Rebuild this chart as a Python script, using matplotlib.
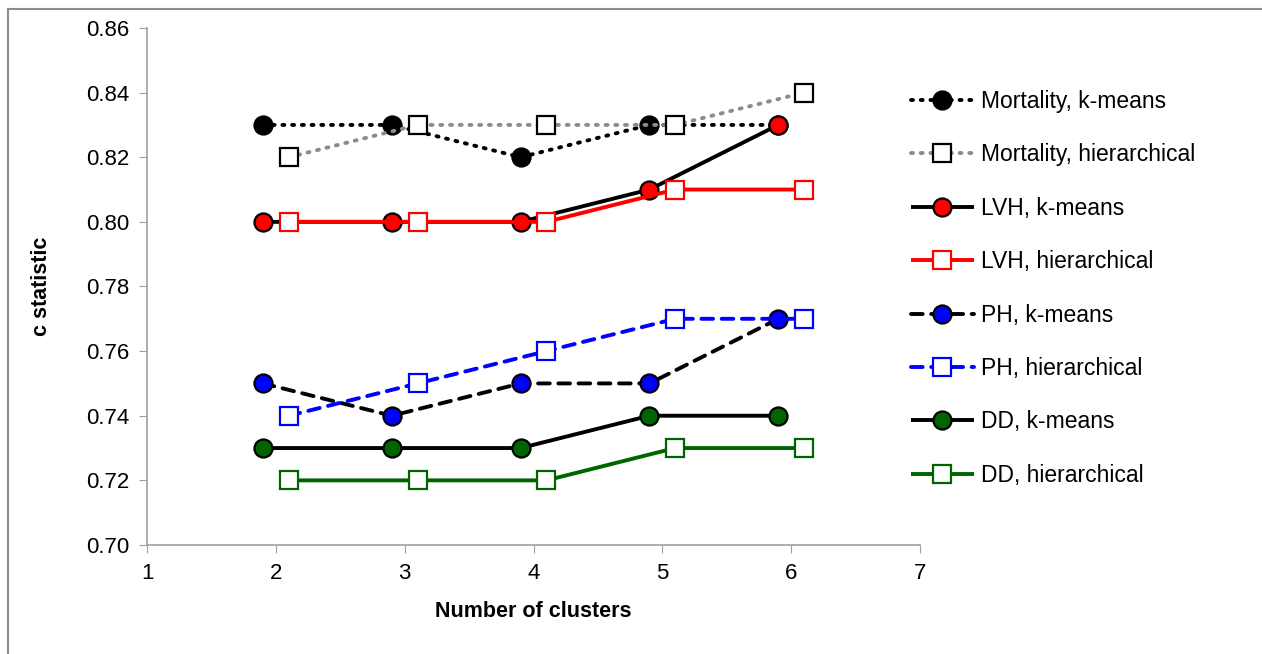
import matplotlib
matplotlib.use("Agg")
import matplotlib.pyplot as plt
from matplotlib.patches import Rectangle

# cluster counts; k-means points sit slightly left, hierarchical slightly right
clusters = [2, 3, 4, 5, 6]
offset = 0.1

mort_km = [0.83, 0.83, 0.82, 0.83, 0.83]
mort_hc = [0.82, 0.83, 0.83, 0.83, 0.84]
lvh_km = [0.80, 0.80, 0.80, 0.81, 0.83]
lvh_hc = [0.80, 0.80, 0.80, 0.81, 0.81]
ph_km = [0.75, 0.74, 0.75, 0.75, 0.77]
ph_hc = [0.74, 0.75, 0.76, 0.77, 0.77]
dd_km = [0.73, 0.73, 0.73, 0.74, 0.74]
dd_hc = [0.72, 0.72, 0.72, 0.73, 0.73]

plt.rcParams['font.family'] = ['Liberation Sans', 'DejaVu Sans']

fig = plt.figure(figsize=(12.62, 6.54), dpi=100)
fig.patches.append(Rectangle((0.006, -0.01), 1.0, 0.997, transform=fig.transFigure,
                             fill=False, edgecolor='#8c8c8c', linewidth=1.5))
ax = fig.add_axes([0.1165, 0.1667, 0.6125, 0.7905])

x_km = [c - offset for c in clusters]
x_hc = [c + offset for c in clusters]

lw = 2.8
dot = (0, (0.5, 2.0))
dash = (0, (3.0, 2.2))
ms_c = 13
ms_s = 12.5

series = [
    (x_km, mort_km, 'Mortality, k-means', 'black', dot, 'o', 'black', 'black', ms_c),
    (x_hc, mort_hc, 'Mortality, hierarchical', '#8c8c8c', dot, 's', 'white', 'black', ms_s),
    (x_km, lvh_km, 'LVH, k-means', 'black', '-', 'o', 'red', 'black', ms_c),
    (x_hc, lvh_hc, 'LVH, hierarchical', 'red', '-', 's', 'white', 'red', ms_s),
    (x_km, ph_km, 'PH, k-means', 'black', dash, 'o', 'blue', 'black', ms_c),
    (x_hc, ph_hc, 'PH, hierarchical', 'blue', dash, 's', 'white', 'blue', ms_s),
    (x_km, dd_km, 'DD, k-means', 'black', '-', 'o', '#006400', 'black', ms_c),
    (x_hc, dd_hc, 'DD, hierarchical', '#006400', '-', 's', 'white', '#006400', ms_s),
]

for xs, ys, lab, col, ls, mk, mfc, mec, ms in series:
    ax.plot(xs, ys, color=col, linestyle=ls, linewidth=lw, marker=mk,
            markerfacecolor=mfc, markeredgecolor=mec, markersize=ms,
            markeredgewidth=1.6, dash_capstyle='round', solid_capstyle='butt',
            label=lab)

ax.set_xlim(1, 7)
ax.set_ylim(0.70, 0.86)
ax.set_xticks(range(1, 8))
ax.set_yticks([0.70, 0.72, 0.74, 0.76, 0.78, 0.80, 0.82, 0.84, 0.86])
ax.set_yticklabels([f'{v:.2f}' for v in ax.get_yticks()])
for s in ['top', 'right']:
    ax.spines[s].set_visible(False)
for s in ['left', 'bottom']:
    ax.spines[s].set_color('#a0a0a0')
    ax.spines[s].set_linewidth(1.2)
ax.tick_params(direction='out', length=6, color='#a0a0a0', labelsize=16, pad=7)
ax.set_xlabel('Number of clusters', fontsize=15.5, fontweight='bold', labelpad=12)
ax.set_ylabel('c statistic', fontsize=15.5, fontweight='bold', labelpad=24)

fig.legend(loc='upper left', bbox_to_anchor=(0.7145, 0.877), frameon=False,
           fontsize=16.5, handlelength=2.75, handletextpad=0.3, labelspacing=1.33,
           borderaxespad=0)

fig.savefig('out.png', dpi=100)
